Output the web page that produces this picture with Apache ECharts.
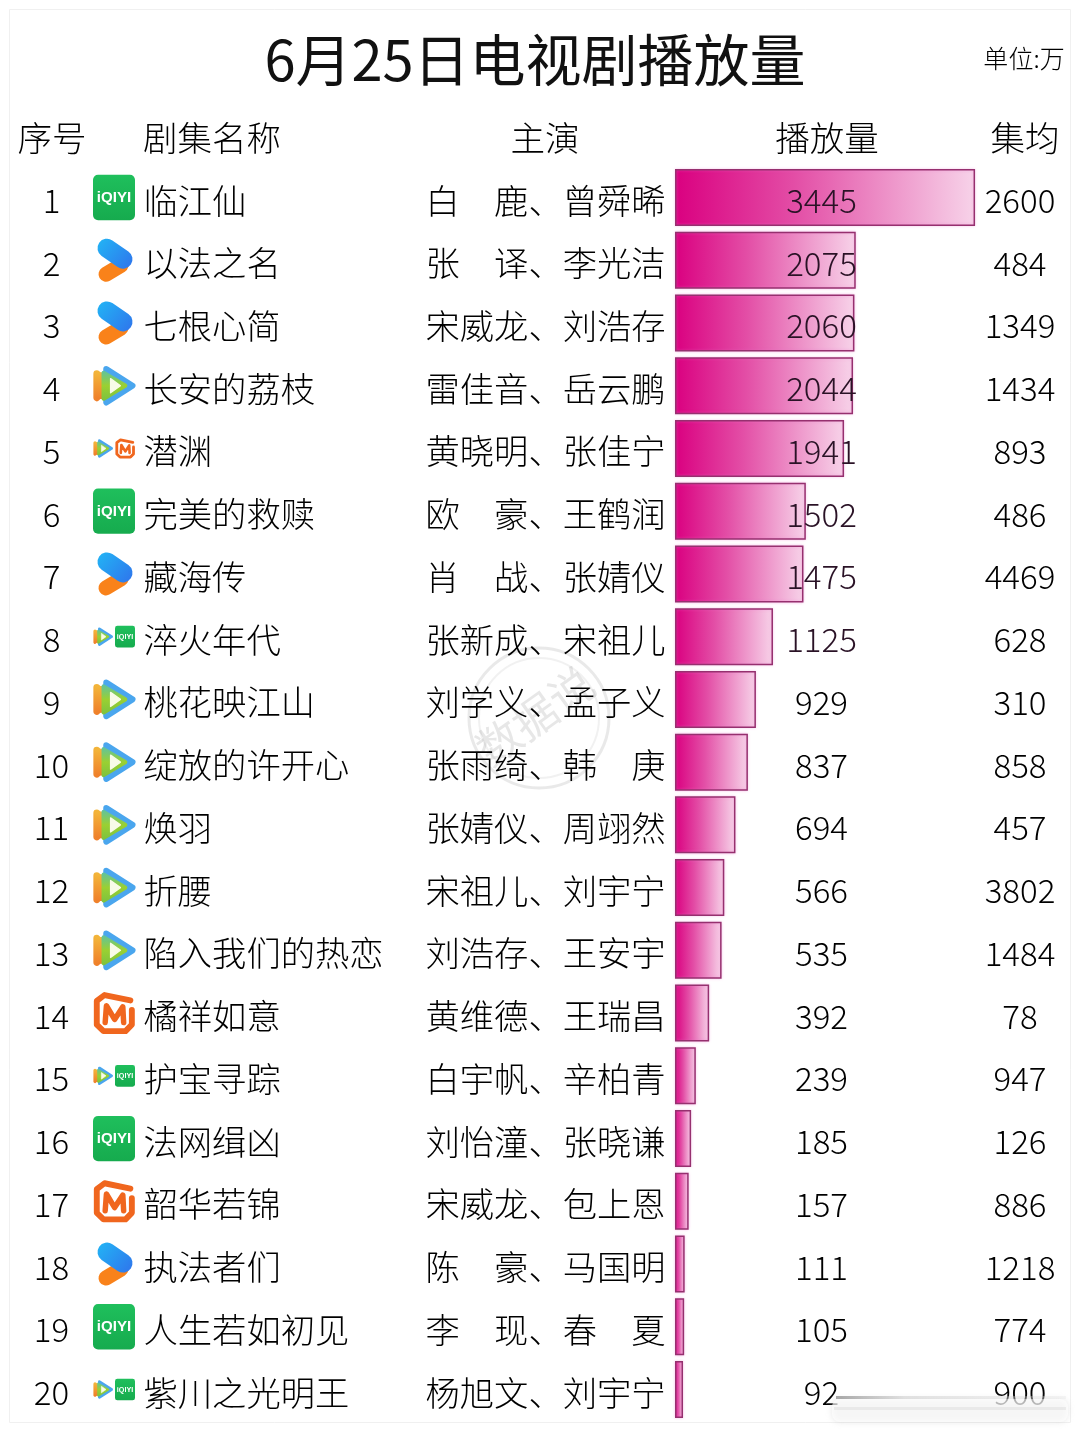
<!DOCTYPE html>
<html><head><meta charset="utf-8">
<style>html,body{margin:0;padding:0;background:#fff}#c{width:1080px;height:1432px}</style>
<script src="https://cdn.jsdelivr.net/npm/echarts@6/dist/echarts.min.js"></script>
</head><body><div id="c"></div>
<script>
const ranks=['1','2','3','4','5','6','7','8','9','10','11','12','13','14','15','16','17','18','19','20'];
const names=['临江仙','以法之名','七根心简','长安的荔枝','潜渊','完美的救赎','藏海传','淬火年代','桃花映江山','绽放的许开心','焕羽','折腰','陷入我们的热恋','橘祥如意','护宝寻踪','法网缉凶','韶华若锦','执法者们','人生若如初见','紫川之光明王'];
const actors=['白　鹿、曾舜晞','张　译、李光洁','宋威龙、刘浩存','雷佳音、岳云鹏','黄晓明、张佳宁','欧　豪、王鹤润','肖　战、张婧仪','张新成、宋祖儿','刘学义、孟子义','张雨绮、韩　庚','张婧仪、周翊然','宋祖儿、刘宇宁','刘浩存、王安宇','黄维德、王瑞昌','白宇帆、辛柏青','刘怡潼、张晓谦','宋威龙、包上恩','陈　豪、马国明','李　现、春　夏','杨旭文、刘宇宁'];
const plays=[3445,2075,2060,2044,1941,1502,1475,1125,929,837,694,566,535,392,239,185,157,111,105,92];
const avgs=[2600,484,1349,1434,893,486,4469,628,310,858,457,3802,1484,78,947,126,886,1218,774,900];
const platforms=['iqiyi','youku','youku','tencent','tencent+mango','iqiyi','youku','tencent+iqiyi','tencent','tencent','tencent','tencent','tencent','mango','tencent+iqiyi','iqiyi','mango','youku','iqiyi','tencent+iqiyi'];
const headers=['序号','剧集名称','主演','播放量','集均'];
const titleText='6月25日电视剧播放量';
const unitText='单位:万';
const watermarkText='数据说';

const FONT='"Noto Sans CJK SC","Noto Sans",sans-serif';
const INK='#000';

function txt(x,y,t,size,align,color){
  return {type:'text',x:x,y:y,style:{text:t,font:'300 '+size+'px '+FONT,fill:color||INK,align:align,verticalAlign:'middle'}};
}
function iqiyi(cx,cy,s){
  const h=s*1.08;
  return [
    {type:'rect',shape:{x:cx-s/2,y:cy-h/2,width:s,height:h,r:s*0.12},style:{fill:new echarts.graphic.LinearGradient(0,0,0,1,[{offset:0,color:'#1fbf5c'},{offset:1,color:'#16ab4e'}])}},
    {type:'text',x:cx,y:cy+s*0.01,style:{text:'iQIYI',font:'bold '+(s*0.36)+'px "Liberation Sans",sans-serif',fill:'#fff',align:'center',verticalAlign:'middle'}}
  ];
}
function youku(cx,cy,s){
  const g=new echarts.graphic.LinearGradient(0,0,1,1,[{offset:0,color:'#22b5f5'},{offset:1,color:'#2f74ec'}]);
  const u=s/46;
  return [
    {type:'line',shape:{x1:cx-8*u,y1:cy+14*u,x2:cx+7*u,y2:cy+5*u},style:{stroke:'#f9821a',lineWidth:15*u,lineCap:'round'}},
    {type:'line',shape:{x1:cx-7*u,y1:cy-12*u,x2:cx+9*u,y2:cy-1*u},style:{stroke:g,lineWidth:19*u,lineCap:'round'}}
  ];
}
function tencent(cx,cy,s){
  const r=s/2;
  const p=(a,b,c)=>[[cx+a[0]*r,cy+a[1]*r],[cx+b[0]*r,cy+b[1]*r],[cx+c[0]*r,cy+c[1]*r]];
  const tri=(pts,fill,w)=>({type:'polygon',shape:{points:pts},style:{fill:fill,stroke:fill,lineWidth:s*w,lineJoin:'round'}});
  const orange=new echarts.graphic.LinearGradient(0,0,0,1,[{offset:0,color:'#f3b63a'},{offset:1,color:'#ef7f2a'}]);
  const green=new echarts.graphic.LinearGradient(0,0,0,1,[{offset:0,color:'#5fc3a0'},{offset:.5,color:'#9ad032'},{offset:1,color:'#7cc23e'}]);
  return [
    tri(p([-.36,-.78],[.86,0],[-.36,.78]),'#4aa6ee',.14),
    tri(p([-.8,-.56],[-.3,0],[-.8,.56]),orange,.16),
    {type:'rect',shape:{x:cx-.88*r,y:cy-.62*r,width:.5*r,height:1.24*r,r:.1*r},style:{fill:orange}},
    tri(p([-.48,-.6],[.52,0],[-.48,.6]),green,.1),
    tri(p([-.16,-.33],[.3,0],[-.16,.33]),'#f8fbe8',.03)
  ];
}
function mango(cx,cy,s){
  const r=s/2;
  const P=(x,y)=>[cx+x*r,cy+y*r];
  return [
    {type:'polyline',shape:{points:[P(.78,-.6),P(-.45,-.86),P(-.82,-.58),P(-.82,.55),P(-.5,.86),P(.55,.86),P(.85,.55),P(.85,-.15)]},
      style:{stroke:'#f0661e',lineWidth:s*.14,fill:null,lineJoin:'round',lineCap:'round'}},
    {type:'polyline',shape:{points:[P(-.42,.45),P(-.36,-.35),P(.03,.3),P(.42,-.3),P(.46,.45)]},
      style:{stroke:'#f0661e',lineWidth:s*.13,fill:null,lineJoin:'round',lineCap:'round'}}
  ];
}
function logo(kind,cy){
  const x=114;
  if(kind==='iqiyi') return iqiyi(x,cy,42);
  if(kind==='youku') return youku(x,cy,46);
  if(kind==='tencent') return tencent(x,cy,43);
  if(kind==='mango') return mango(x,cy,42);
  const parts=kind.split('+');
  const left=tencent(103,cy,20);
  const right=parts[1]==='mango'?mango(125,cy,20):iqiyi(125,cy,20);
  return left.concat(right);
}
function head(x,t){
  return {type:'text',z:5,x:x,y:138,style:{text:t,font:'300 34.5px '+FONT,fill:INK,align:'center',verticalAlign:'middle'}};
}

const option={
  animation:false,
  backgroundColor:'#fff',
  grid:{left:675,top:166.1,width:348.4,height:1254.8,containLabel:false},
  xAxis:{type:'value',min:0,max:4000,show:false},
  yAxis:{type:'category',data:ranks,inverse:true,show:false},
  graphic:{elements:[
    {type:'rect',z:0,shape:{x:9.5,y:9.5,width:1061,height:1413},style:{fill:'#fff',stroke:'#f0f0f0',lineWidth:1}},
    {type:'text',z:5,x:535,y:60,style:{text:titleText,font:'400 56px '+FONT,fill:'#111',align:'center',verticalAlign:'middle'}},
    {type:'text',z:5,x:1024,y:58,style:{text:unitText,font:'300 25px '+FONT,fill:INK,align:'center',verticalAlign:'middle'}},
    head(52,headers[0]),head(212,headers[1]),head(545,headers[2]),head(827,headers[3]),head(1025,headers[4]),
    {type:'circle',z:1,shape:{cx:539,cy:718,r:70},style:{fill:null,stroke:'rgba(120,120,120,.16)',lineWidth:3}},
    {type:'circle',z:1,shape:{cx:539,cy:718,r:60},style:{fill:null,stroke:'rgba(120,120,120,.1)',lineWidth:2}},
    {type:'text',z:1,x:535,y:716,rotation:0.62,style:{text:watermarkText,font:'400 44px '+FONT,fill:'rgba(120,120,120,.18)',align:'center',verticalAlign:'middle'}},
    {type:'rect',z:20,shape:{x:832,y:1399,width:236,height:23,r:8},style:{fill:'rgba(255,255,255,.62)',shadowBlur:6,shadowColor:'rgba(190,190,190,.6)'}},
    {type:'rect',z:21,shape:{x:836,y:1396,width:230,height:3},style:{fill:new echarts.graphic.LinearGradient(0,0,1,0,[{offset:0,color:'rgba(100,100,100,.55)'},{offset:.3,color:'rgba(200,200,200,.5)'},{offset:1,color:'rgba(225,225,225,.3)'}])}},
    {type:'rect',z:21,shape:{x:834,y:1407,width:232,height:3},style:{fill:'rgba(215,215,215,.4)'}}
  ]},
  series:[
    {
      type:'bar',
      data:plays,
      barWidth:57,
      z:2,
      itemStyle:{
        color:new echarts.graphic.LinearGradient(0,0,1,0,[{offset:0,color:'#da0080'},{offset:.4,color:'#e34ea6'},{offset:1,color:'#f7d3e9'}]),
        borderColor:'#96306f',borderWidth:1.5,
        shadowColor:'rgba(240,120,210,.4)',shadowBlur:3
      }
    },
    {
      type:'custom',
      z:10,
      coordinateSystem:'cartesian2d',
      data:plays.map((v,i)=>[0,i]),
      encode:{x:0,y:1},
      silent:true,
      renderItem:function(params,api){
        const i=api.value(1);
        const base=api.coord([0,i])[1];
        const cy=base+3;
        const ch=[
          txt(51.5,cy,ranks[i],33,'center'),
          txt(143.5,cy,names[i],34.3,'left'),
          txt(425.5,cy,actors[i],34.3,'left'),
          txt(821.5,cy,String(plays[i]),33,'center',plays[i]>1000?'#2a1226':INK),
          txt(1020,cy,String(avgs[i]),33,'center')
        ].concat(logo(platforms[i],base));
        return {type:'group',children:ch};
      }
    }
  ]
};
const chart=echarts.init(document.getElementById('c'),null,{renderer:'canvas'});
chart.setOption(option);
</script></body></html>
